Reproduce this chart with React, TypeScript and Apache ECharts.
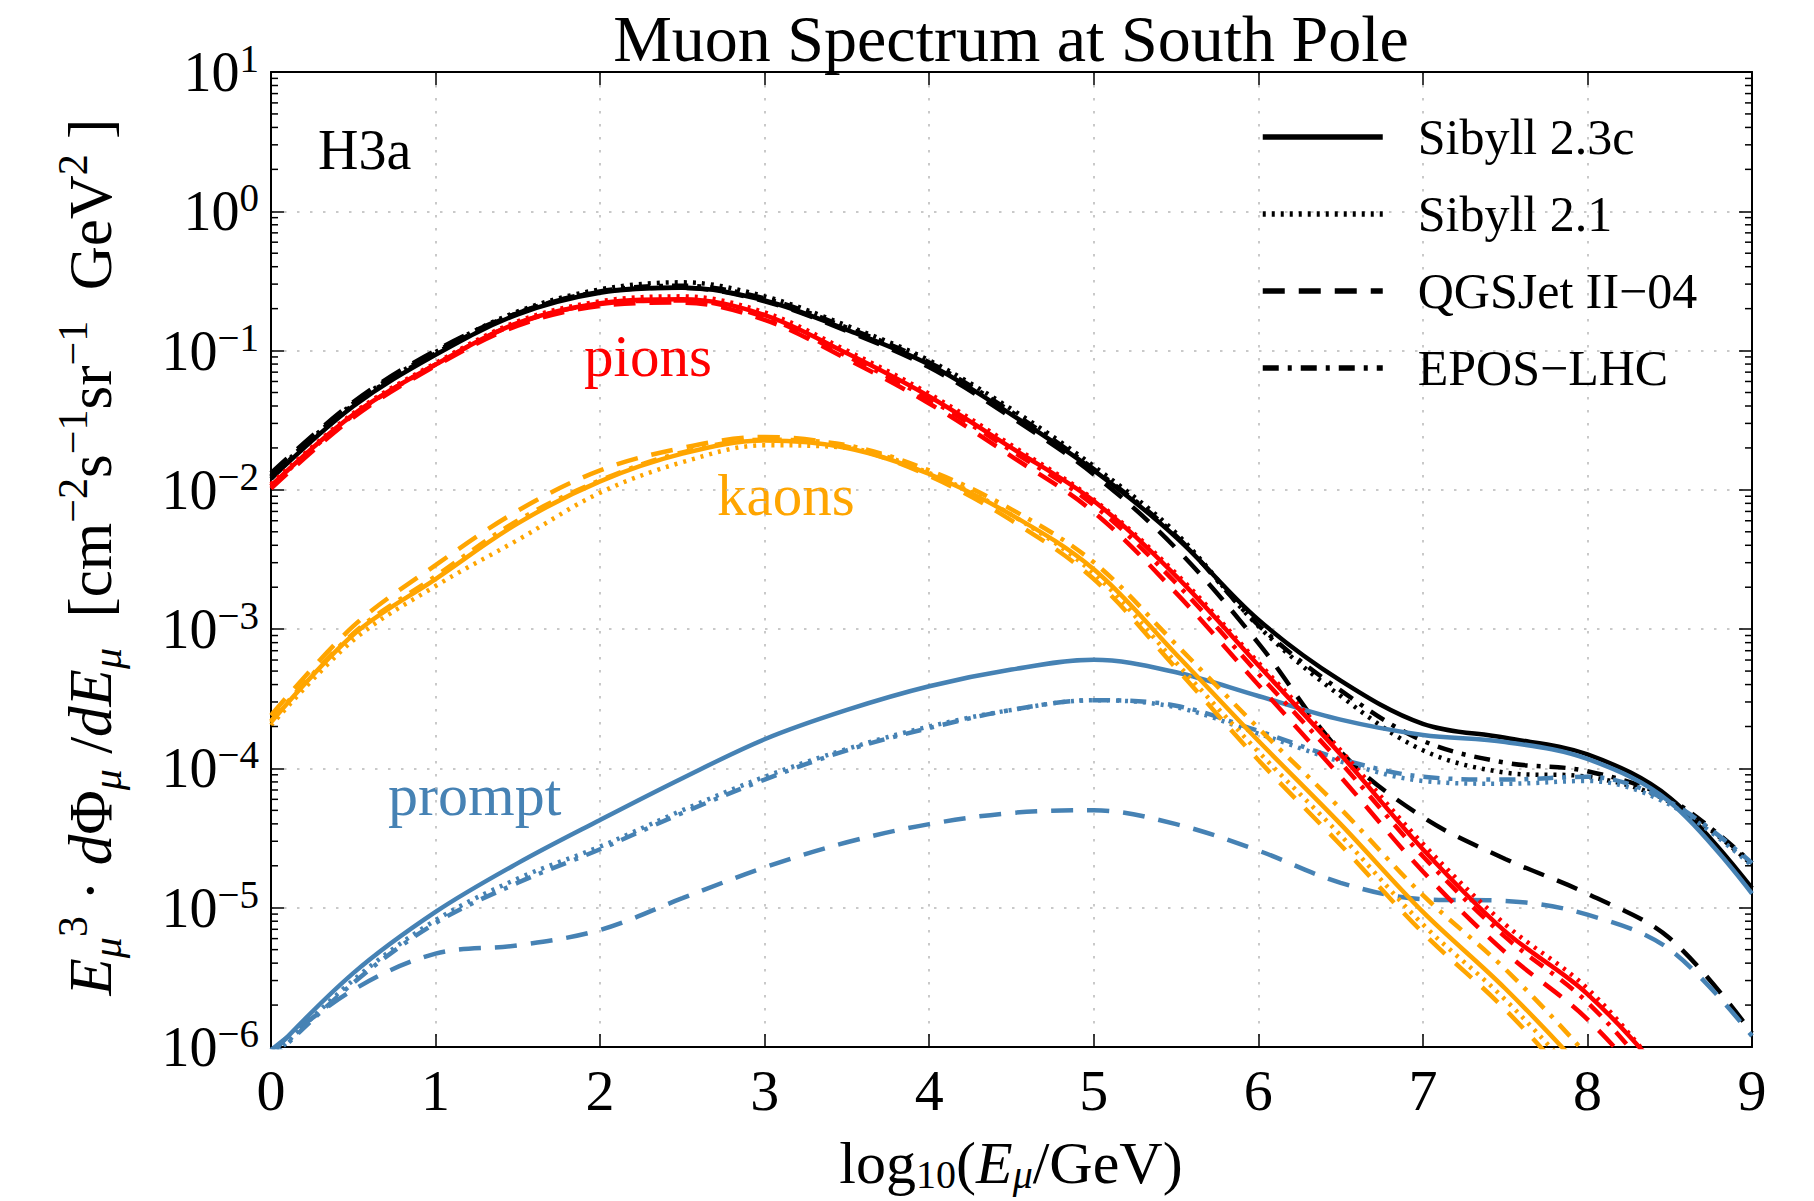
import React, { useEffect, useRef } from "react";
import * as echarts from "echarts";

// log10(E_mu / GeV) sample points
const X = [0, 0.5, 1, 1.5, 2, 2.5, 3, 3.5, 4, 4.5, 5, 5.5, 6, 6.5, 7, 7.5, 8, 8.5, 9];

// Total (black)
const TOTAL_SIB23C = [1.2e-2, 3.98e-2, 9.33e-2, 0.182, 0.26, 0.282, 0.229, 0.141, 7.94e-2, 3.47e-2, 1.38e-2, 4.57e-3, 1.17e-3, 4.27e-4, 2.09e-4, 1.66e-4, 1.26e-4, 6.17e-5, 1.38e-5];
const TOTAL_SIB21 = [1.26e-2, 4.17e-2, 9.77e-2, 0.191, 0.275, 0.309, 0.245, 0.151, 8.51e-2, 3.8e-2, 1.48e-2, 4.9e-3, 1.05e-3, 3.31e-4, 1.35e-4, 9.33e-5, 8.71e-5, 5.75e-5, 2.04e-5];
const TOTAL_QGS = [1.32e-2, 4.27e-2, 0.1, 0.186, 0.263, 0.282, 0.226, 0.138, 7.59e-2, 3.31e-2, 1.29e-2, 3.8e-3, 7.94e-4, 1.32e-4, 4.47e-5, 2.24e-5, 1.26e-5, 6.03e-6, 1.26e-6];
const TOTAL_EPOS = [1.23e-2, 4.07e-2, 9.55e-2, 0.186, 0.266, 0.292, 0.237, 0.146, 8.22e-2, 3.63e-2, 1.41e-2, 4.68e-3, 1.07e-3, 3.63e-4, 1.58e-4, 1.1e-4, 9.55e-5, 6.03e-5, 2.09e-5];

// Pions (red)
const PION_SIB23C = [1.07e-2, 3.47e-2, 7.94e-2, 0.158, 0.219, 0.234, 0.18, 9.55e-2, 4.68e-2, 2.0e-2, 8.32e-3, 2.4e-3, 5.5e-4, 1.26e-4, 2.63e-5, 6.76e-6, 2.4e-6, 5.6e-7, 1.0e-7];
const PION_SIB21 = [1.1e-2, 3.55e-2, 8.13e-2, 0.162, 0.226, 0.245, 0.188, 0.1, 4.9e-2, 2.09e-2, 8.51e-3, 2.51e-3, 5.75e-4, 1.35e-4, 2.88e-5, 7.59e-6, 2.63e-6, 5.6e-7, 1.1e-7];
const PION_QGS = [1.02e-2, 3.31e-2, 7.76e-2, 0.151, 0.209, 0.221, 0.166, 8.71e-2, 4.17e-2, 1.74e-2, 6.92e-3, 1.82e-3, 3.98e-4, 8.71e-5, 1.82e-5, 4.79e-6, 1.58e-6, 3.5e-7, 7.1e-8];
const PION_EPOS = [1.06e-2, 3.43e-2, 7.94e-2, 0.157, 0.216, 0.229, 0.174, 9.12e-2, 4.47e-2, 1.91e-2, 7.76e-3, 2.14e-3, 4.79e-4, 1.1e-4, 2.34e-5, 6.17e-6, 2.09e-6, 4.5e-7, 8.9e-8];

// Kaons (orange)
const KAON_SIB23C = [2.14e-4, 9.12e-4, 2.29e-3, 5.75e-3, 1.15e-2, 1.82e-2, 2.26e-2, 2.0e-2, 1.3e-2, 6.61e-3, 2.69e-3, 6.61e-4, 1.58e-4, 3.98e-5, 9.33e-6, 2.63e-6, 6.3e-7, 1.26e-7, 2.5e-8];
const KAON_SIB21 = [2.04e-4, 8.32e-4, 2.04e-3, 4.37e-3, 9.55e-3, 1.58e-2, 2.09e-2, 2.0e-2, 1.32e-2, 6.61e-3, 2.51e-3, 5.75e-4, 1.32e-4, 3.31e-5, 7.59e-6, 2.19e-6, 5.0e-7, 1.0e-7, 2.0e-8];
const KAON_QGS = [2.4e-4, 1.05e-3, 2.88e-3, 7.08e-3, 1.38e-2, 2.0e-2, 2.4e-2, 2.04e-2, 1.26e-2, 6.03e-3, 2.29e-3, 5.25e-4, 1.15e-4, 2.82e-5, 6.61e-6, 1.86e-6, 4.2e-7, 8.9e-8, 1.8e-8];
const KAON_EPOS = [2.19e-4, 9.33e-4, 2.4e-3, 6.03e-3, 1.17e-2, 1.86e-2, 2.29e-2, 2.09e-2, 1.38e-2, 7.24e-3, 3.02e-3, 7.76e-4, 1.95e-4, 5.13e-5, 1.23e-5, 3.63e-6, 8.7e-7, 1.78e-7, 3.5e-8];

// Prompt (steel blue)
const PROMPT_SIB23C = [8.9e-7, 3.39e-6, 9.33e-6, 2.09e-5, 4.27e-5, 8.51e-5, 1.62e-4, 2.63e-4, 3.89e-4, 5.13e-4, 6.03e-4, 4.9e-4, 3.31e-4, 2.24e-4, 1.74e-4, 1.55e-4, 1.17e-4, 5.75e-5, 1.26e-5];
const PROMPT_SIB21 = [8.3e-7, 3.02e-6, 8.13e-6, 1.62e-5, 2.75e-5, 5.01e-5, 8.71e-5, 1.38e-4, 2.0e-4, 2.63e-4, 3.09e-4, 2.75e-4, 1.78e-4, 1.12e-4, 8.13e-5, 7.76e-5, 8.13e-5, 5.5e-5, 2.0e-5];
const PROMPT_QGS = [9.5e-7, 2.57e-6, 4.68e-6, 5.37e-6, 6.92e-6, 1.17e-5, 1.95e-5, 2.95e-5, 3.98e-5, 4.79e-5, 5.01e-5, 3.98e-5, 2.57e-5, 1.51e-5, 1.15e-5, 1.12e-5, 8.91e-6, 5.01e-6, 1.2e-6];
const PROMPT_EPOS = [8.1e-7, 2.88e-6, 7.76e-6, 1.51e-5, 2.63e-5, 4.79e-5, 8.32e-5, 1.35e-4, 1.95e-4, 2.63e-4, 3.09e-4, 2.82e-4, 1.86e-4, 1.17e-4, 8.71e-5, 8.32e-5, 8.71e-5, 5.75e-5, 2.09e-5];

const MODELS = ["Sibyll 2.3c", "Sibyll 2.1", "QGSJet II\u221204", "EPOS\u2212LHC"];
const X_TICKS = [0, 1, 2, 3, 4, 5, 6, 7, 8, 9];
const Y_MIN = 1e-6;
const Y_MAX = 10;
const MINOR_TICKS = [-6, -5, -4, -3, -2, -1, 0].flatMap((e) => [2, 3, 4, 5, 6, 7, 8, 9].map((m) => m * Math.pow(10, e)));

const FONT = "'Liberation Serif', 'DejaVu Serif', serif";
const BLACK = "#000000";
const RED = "#ff0000";
const ORANGE = "#ffa500";
const BLUE = "#4682b4";

const DASH: Record<string, any> = {
  solid: "solid",
  dotted: [3, 6],
  dashed: [22, 14],
  dashdot: [16, 9, 4, 9],
};

function mk(name: string, ys: number[], color: string, dash: any, z: number) {
  return {
    type: "line",
    name,
    data: X.map((x, i) => [x, ys[i]]),
    symbol: "none",
    smooth: 0.35,
    clip: true,
    silent: true,
    z,
    lineStyle: { color, width: 4.5, type: dash, cap: "butt" },
    itemStyle: { color },
  };
}

export default function App() {
  const ref = useRef<HTMLDivElement>(null);

  useEffect(() => {
    document.body.style.margin = "0";
    const chart = echarts.init(ref.current!, null, { renderer: "svg" });
    const gridLine = { show: true, lineStyle: { color: "#b8b8b8", width: 1.5, type: [2.5, 10.5] } };
    const axisLine = { show: true, onZero: false, lineStyle: { color: "#000", width: 2 } };
    const styles = [DASH.solid, DASH.dotted, DASH.dashed, DASH.dashdot];
    const totals = [TOTAL_SIB23C, TOTAL_SIB21, TOTAL_QGS, TOTAL_EPOS];
    const prompts = [PROMPT_SIB23C, PROMPT_SIB21, PROMPT_QGS, PROMPT_EPOS];
    const pions = [PION_SIB23C, PION_SIB21, PION_QGS, PION_EPOS];
    const kaons = [KAON_SIB23C, KAON_SIB21, KAON_QGS, KAON_EPOS];

    const series: any[] = [];
    MODELS.forEach((m, i) => series.push(mk(m, totals[i], BLACK, styles[i], 10)));
    MODELS.forEach((m, i) => series.push(mk("prompt " + m, prompts[i], BLUE, styles[i], 11)));
    MODELS.forEach((m, i) => series.push(mk("pions " + m, pions[i], RED, styles[i], 12)));
    MODELS.forEach((m, i) => series.push(mk("kaons " + m, kaons[i], ORANGE, styles[i], 13)));

    series.push({
      type: "custom",
      name: "minor ticks",
      coordinateSystem: "cartesian2d",
      data: MINOR_TICKS.map((v) => [X_TICKS[0], v]),
      encode: { x: 0, y: 1 },
      silent: true,
      clip: false,
      z: 20,
      renderItem: (params: any, api: any) => {
        const pt = api.coord([api.value(0), api.value(1)]);
        const cs = params.coordSys;
        return {
          type: "group",
          children: [
            { type: "line", shape: { x1: cs.x, y1: pt[1], x2: cs.x + 7, y2: pt[1] }, style: { stroke: "#000", lineWidth: 1.5 } },
            { type: "line", shape: { x1: cs.x + cs.width - 7, y1: pt[1], x2: cs.x + cs.width, y2: pt[1] }, style: { stroke: "#000", lineWidth: 1.5 } },
          ],
        };
      },
    });

    const yLabel = {
      formatter: (v: number) => {
        const e = Math.round(Math.log10(v));
        return `{b|10}{s|${e < 0 ? "\u2212" + -e : e}}`;
      },
      margin: 12,
      rich: {
        b: { fontSize: 56, fontFamily: FONT, color: "#000", lineHeight: 66 },
        s: { fontSize: 39, fontFamily: FONT, color: "#000", lineHeight: 36, verticalAlign: "top" },
      },
    };

    const option: any = {
      animation: false,
      backgroundColor: "#ffffff",
      grid: { left: 271, top: 72, width: 1481, height: 975, containLabel: false },
      legend: {
        data: MODELS,
        orient: "vertical",
        left: 1255,
        top: 104,
        itemWidth: 120,
        itemHeight: 24,
        itemGap: 21,
        selectedMode: false,
        itemStyle: { opacity: 0, borderWidth: 0 },
        lineStyle: { width: 5.5 },
        textStyle: { fontFamily: FONT, fontSize: 50, color: "#000", lineHeight: 56, padding: [0, 0, 0, 30] },
      },
      xAxis: [
        {
          type: "value",
          min: X_TICKS[0],
          max: X_TICKS[X_TICKS.length - 1],
          interval: 1,
          axisLine,
          axisTick: { show: true, inside: true, length: 13, lineStyle: { color: "#000", width: 1.5 } },
          axisLabel: { fontFamily: FONT, fontSize: 58, color: "#000", margin: 14 },
          splitLine: gridLine,
        },
        {
          type: "value",
          position: "top",
          min: X_TICKS[0],
          max: X_TICKS[X_TICKS.length - 1],
          interval: 1,
          axisLine,
          axisTick: { show: true, inside: true, length: 13, lineStyle: { color: "#000", width: 1.5 } },
          axisLabel: { show: false },
          splitLine: { show: false },
        },
      ],
      yAxis: [
        {
          type: "log",
          logBase: 10,
          min: Y_MIN,
          max: Y_MAX,
          splitNumber: 7,
          axisLine,
          axisTick: { show: true, inside: true, length: 13, lineStyle: { color: "#000", width: 1.5 } },
          axisLabel: yLabel,
          splitLine: gridLine,
        },
        {
          type: "log",
          logBase: 10,
          min: Y_MIN,
          max: Y_MAX,
          splitNumber: 7,
          position: "right",
          axisLine,
          axisTick: { show: true, inside: true, length: 13, lineStyle: { color: "#000", width: 1.5 } },
          axisLabel: { show: false },
          splitLine: { show: false },
        },
      ],
      graphic: [
        {
          type: "text",
          x: 1011,
          y: 38,
          style: { text: "Muon Spectrum at South Pole", fontFamily: FONT, fontSize: 66, fill: "#000", align: "center", verticalAlign: "middle" },
        },
        {
          type: "text",
          x: 1011,
          y: 1163,
          style: {
            text: "log{sub|10}({it|E}{subi|\u03bc}/GeV)",
            fontFamily: FONT,
            fontSize: 60,
            lineHeight: 62,
            fill: "#000",
            align: "center",
            verticalAlign: "middle",
            rich: {
              it: { fontFamily: FONT, fontSize: 60, fontStyle: "italic", lineHeight: 62 },
              sub: { fontFamily: FONT, fontSize: 40, lineHeight: 36, verticalAlign: "bottom" },
              subi: { fontFamily: FONT, fontSize: 40, fontStyle: "italic", lineHeight: 36, verticalAlign: "bottom" },
            },
          },
        },
        {
          type: "text",
          x: 90,
          y: 557,
          rotation: Math.PI / 2,
          style: {
            text:
              "{it|E}{subi|\u03bc}{sup|3} \u00b7 {it|d}\u03a6{subi|\u03bc} /{it|dE}{subi|\u03bc}  [cm{sup|\u22122}s{sup|\u22121}sr{sup|\u22121}  GeV{sup|2} ]",
            fontFamily: FONT,
            fontSize: 61,
            lineHeight: 76,
            fill: "#000",
            align: "center",
            verticalAlign: "middle",
            rich: {
              it: { fontFamily: FONT, fontSize: 61, fontStyle: "italic", lineHeight: 76 },
              subi: { fontFamily: FONT, fontSize: 42, fontStyle: "italic", lineHeight: 42, verticalAlign: "bottom" },
              sup: { fontFamily: FONT, fontSize: 42, lineHeight: 42, verticalAlign: "top" },
            },
          },
        },
        { type: "text", x: 318, y: 150, style: { text: "H3a", fontFamily: FONT, fontSize: 56, fill: BLACK, verticalAlign: "middle" } },
        { type: "text", x: 584, y: 356, style: { text: "pions", fontFamily: FONT, fontSize: 59, fill: RED, verticalAlign: "middle" } },
        { type: "text", x: 717, y: 495, style: { text: "kaons", fontFamily: FONT, fontSize: 59, fill: ORANGE, verticalAlign: "middle" } },
        { type: "text", x: 388, y: 795, style: { text: "prompt", fontFamily: FONT, fontSize: 60, fill: BLUE, verticalAlign: "middle" } },
      ],
      series,
    };
    chart.setOption(option);
    return () => chart.dispose();
  }, []);

  return <div ref={ref} style={{ position: "fixed", left: 0, top: 0, width: 1814, height: 1201, background: "#fff" }} />;
}
